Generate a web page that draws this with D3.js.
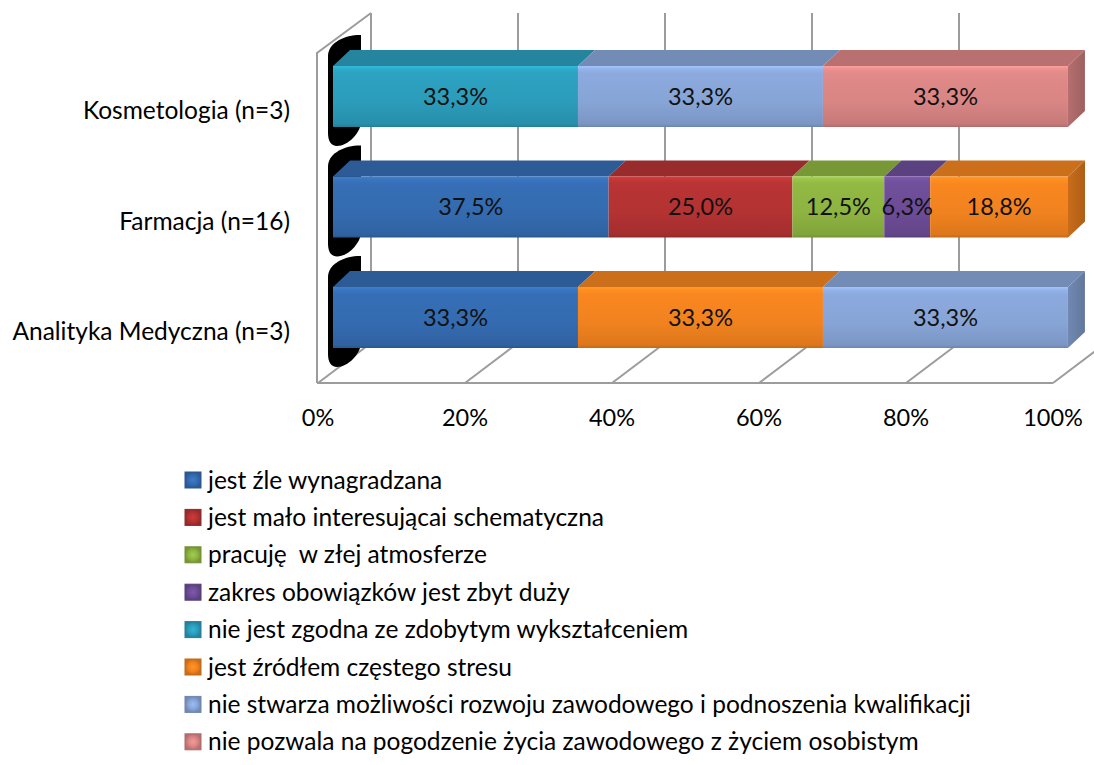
<!DOCTYPE html>
<html><head><meta charset="utf-8">
<script src="https://cdn.jsdelivr.net/npm/d3@7"></script>
<style>
html,body{margin:0;padding:0;background:#fff;}
svg{display:block;font-family:Lato,"Open Sans",sans-serif;}
text{white-space:pre;}
</style></head>
<body>
<svg id="chart" width="1094" height="765"></svg>
<script>
// ---- data ----
const categories = ["Kosmetologia (n=3)", "Farmacja (n=16)", "Analityka Medyczna (n=3)"];
const seriesNames = [
  "jest źle wynagradzana",
  "jest mało interesującai schematyczna",
  "pracuję  w złej atmosferze",
  "zakres obowiązków jest zbyt duży",
  "nie jest zgodna ze zdobytym wykształceniem",
  "jest źródłem częstego stresu",
  "nie stwarza możliwości rozwoju zawodowego i podnoszenia kwalifikacji",
  "nie pozwala na pogodzenie życia zawodowego z życiem osobistym"
];
const seriesColors = ["#346bb0", "#b33232", "#8db341", "#6c4c96", "#2b9cba", "#f0821f", "#87a4d6", "#d88584"];
// values per series, in category order [Kosmetologia, Farmacja, Analityka]
const zleWynagradzana   = [0, 37.5, 33.33];
const maloInteresujaca  = [0, 25.0, 0];
const zlaAtmosfera      = [0, 12.5, 0];
const zakresObowiazkow  = [0, 6.25, 0];
const niezgodnaWyksztal = [33.33, 0, 0];
const zrodloStresu      = [0, 18.75, 33.33];
const brakRozwoju       = [33.33, 0, 33.33];
const brakPogodzenia    = [33.33, 0, 0];
const tickValues = [0, 20, 40, 60, 80, 100];
const tickLabels = ["0%", "20%", "40%", "60%", "80%", "100%"];

const seriesValues = [zleWynagradzana, maloInteresujaca, zlaAtmosfera, zakresObowiazkow,
  niezgodnaWyksztal, zrodloStresu, brakRozwoju, brakPogodzenia];

const rows = categories.map((c, i) => {
  const r = {cat: c};
  seriesNames.forEach((s, j) => r[s] = seriesValues[j][i]);
  return r;
});
const stacked = d3.stack().keys(seriesNames)(rows);

// ---- layout ----
const svg = d3.select("#chart");
const defs = svg.append("defs");
const FONT = 24.5, NUMFONT = 23.5;

const xBar = d3.scaleLinear().domain([0, 100]).range([333, 1068]);
const xGridFront = d3.scaleLinear().domain([0, 100]).range([318, 1053]);
const xGridBack = d3.scaleLinear().domain([0, 100]).range([371, 1106]);
const y = d3.scaleBand().domain(categories).range([41.25, 372.75]).paddingInner(0.448).paddingOuter(0.224);
const floorFront = 383, floorBack = 343, wallTop = 13, leftWallTop = 53;
const bdx = 17, bdy = 16;
const gridColor = "#9c9c9c";

// gradients
seriesColors.forEach((c, i) => {
  const base = d3.color(c);
  const g = defs.append("linearGradient").attr("id", "front" + i).attr("x1", 0).attr("y1", 0).attr("x2", 0).attr("y2", 1);
  [[0, base.brighter(0.5)], [0.05, base.brighter(0.25)], [0.12, base.brighter(0.1)], [0.6, base], [0.95, base.darker(0.25)], [1, base.darker(0.6)]]
    .forEach(([o, col]) => g.append("stop").attr("offset", o).attr("stop-color", col));
  const s = defs.append("linearGradient").attr("id", "side" + i).attr("x1", 0).attr("y1", 0).attr("x2", 1).attr("y2", 0);
  [[0, base.darker(0.5)], [1, base.darker(0.9)]].forEach(([o, col]) => s.append("stop").attr("offset", o).attr("stop-color", col));
  const lg = defs.append("radialGradient").attr("id", "leg" + i);
  [[0, base.brighter(0.4)], [0.6, base], [1, base.darker(0.5)]].forEach(([o, col]) => lg.append("stop").attr("offset", o).attr("stop-color", col));
});

// ---- walls & grid ----
const grid = svg.append("g").attr("stroke", gridColor).attr("stroke-width", 2).attr("fill", "none");
grid.append("path").attr("d", `M${xGridFront(0) - 1},${floorFront} L${xGridFront(0) - 1},${leftWallTop} L${xGridBack(0)},${wallTop}`);
grid.selectAll("line.v").data(tickValues).join("line").attr("class", "v")
  .attr("x1", d => xGridBack(d)).attr("x2", d => xGridBack(d)).attr("y1", wallTop).attr("y2", floorBack);
grid.append("line").attr("x1", xGridFront(0) - 1).attr("x2", xGridFront(100)).attr("y1", floorFront).attr("y2", floorFront);
grid.selectAll("line.d").data(tickValues).join("line").attr("class", "d")
  .attr("x1", d => xGridFront(d)).attr("y1", floorFront).attr("x2", d => xGridBack(d)).attr("y2", floorBack);

// ---- black end artefacts ----
svg.append("g").selectAll("path").data(categories).join("path")
  .attr("fill", "#000")
  .attr("d", c => {
    const yt = y(c), yb = y(c) + y.bandwidth();
    return `M328,${yt - 10} C328,${yt - 22} 342,${yt - 30} 357,${yt - 31} L361,${yt - 31} L361,${yb - 4}
            C360,${yb + 6} 348,${yb + 19} 337,${yb + 19} C331,${yb + 19} 328,${yb + 14} 328,${yb + 6} Z`;
  });

// ---- bars ----
const segs = [];
stacked.forEach((layer, si) => {
  layer.forEach((d, ci) => {
    if (d[1] - d[0] > 0) segs.push({si, cat: categories[ci], x0: d[0], x1: d[1], v: d[1] - d[0]});
  });
});
const lastByCat = {};
segs.forEach(s => lastByCat[s.cat] = s);

const barG = svg.append("g");
segs.forEach(s => {
  const x0 = xBar(s.x0), x1 = xBar(s.x1), yt = y(s.cat), yb = yt + y.bandwidth();
  const base = d3.color(seriesColors[s.si]);
  const g = barG.append("g");
  g.append("path").attr("d", `M${x0},${yt} L${x1},${yt} L${x1 + bdx},${yt - bdy} L${x0 + bdx},${yt - bdy} Z`)
    .attr("fill", base.darker(0.45));
  g.append("rect").attr("x", x0).attr("y", yt).attr("width", x1 - x0).attr("height", yb - yt)
    .attr("fill", `url(#front${s.si})`);
  if (lastByCat[s.cat] === s) {
    g.append("path").attr("d", `M${x1},${yt} L${x1 + bdx},${yt - bdy} L${x1 + bdx},${yb - bdy} L${x1},${yb} Z`)
      .attr("fill", `url(#side${s.si})`);
  }
});

// data labels
const fmt = v => d3.format(".1f")(v).replace(".", ",") + "%";
svg.append("g").selectAll("text").data(segs).join("text")
  .attr("x", s => (xBar(s.x0) + xBar(s.x1)) / 2)
  .attr("y", s => y(s.cat) + y.bandwidth() / 2)
  .attr("dy", "0.35em").attr("text-anchor", "middle")
  .attr("font-size", NUMFONT).attr("fill", "#111")
  .text(s => fmt(s.v));

// category labels
svg.append("g").selectAll("text").data(categories).join("text")
  .attr("x", 290).attr("y", c => y(c) + y.bandwidth() / 2 + 14)
  .attr("dy", "0.35em").attr("text-anchor", "end")
  .attr("font-size", FONT).attr("fill", "#000").text(c => c);

// tick labels
svg.append("g").selectAll("text").data(tickValues).join("text")
  .attr("x", d => xGridFront(d)).attr("y", 418)
  .attr("dy", "0.35em").attr("text-anchor", "middle")
  .attr("font-size", NUMFONT).attr("fill", "#000").text((d, i) => tickLabels[i]);

// legend
const leg = svg.append("g").selectAll("g").data(seriesNames).join("g")
  .attr("transform", (d, i) => `translate(185,${480 + i * 37.4})`);
leg.append("rect").attr("x", 0).attr("y", -8).attr("width", 16).attr("height", 16)
  .attr("fill", (d, i) => `url(#leg${i})`).attr("stroke", (d, i) => d3.color(seriesColors[i]).darker(0.6)).attr("stroke-width", 1);
leg.append("text").attr("x", 23).attr("y", 0).attr("dy", "0.35em")
  .attr("font-size", FONT).attr("fill", "#000").text(d => d);
</script>
</body></html>
